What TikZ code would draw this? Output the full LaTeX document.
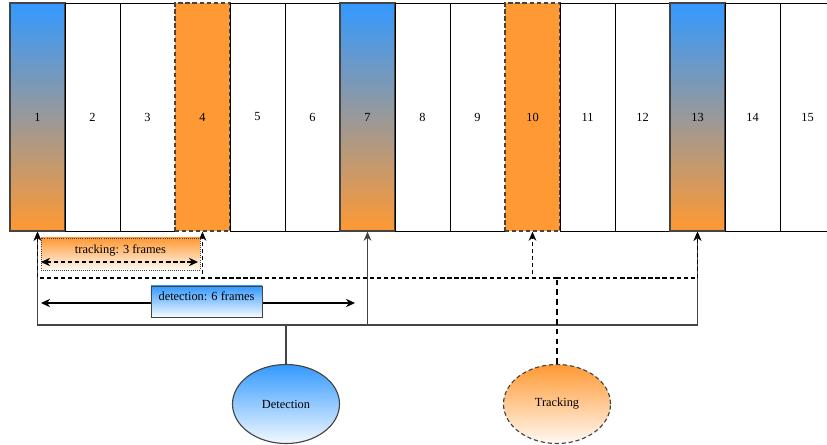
\documentclass[tikz,border=0pt]{standalone}
\usepackage{fontspec}
\setmainfont{Liberation Serif}
\usetikzlibrary{shapes.geometric,arrows.meta}

\definecolor{detblue}{HTML}{3399FF}
\definecolor{trkorange}{HTML}{FF9933}
\definecolor{edgegray}{HTML}{444444}

\tikzset{
  slot/.style={draw=black,line width=0.6pt,minimum width=1.375cm,minimum height=5.7cm,inner sep=0pt,font=\fontsize{8.8}{10}\selectfont},
  detslot/.style={slot,draw=edgegray,line width=0.9pt,top color=detblue,bottom color=trkorange},
  trkslot/.style={slot,draw=edgegray,line width=0.9pt,dash pattern=on 3pt off 2pt,fill=trkorange},
  blob/.style={ellipse,draw=edgegray,line width=0.8pt,minimum width=2.675cm,minimum height=1.975cm,inner sep=0pt,font=\fontsize{8.8}{10}\selectfont},
  detnode/.style={blob,top color=detblue,bottom color=detblue!6},
  trknode/.style={blob,dash pattern=on 3pt off 2pt,top color=trkorange,bottom color=trkorange!6},
  detlink/.style={draw=edgegray,line width=0.8pt,-{Stealth[length=6.5pt,width=5.5pt]}},
  trklink/.style={draw=black,line width=0.8pt,dash pattern=on 3pt off 2pt,-{Stealth[length=6.5pt,width=5.5pt]}},
  span/.style={line width=0.8pt,{Stealth[length=6.5pt,width=6pt]}-{Stealth[length=6.5pt,width=6pt]}},
  tagbox/.style={line width=0.5pt,inner sep=0pt,font=\fontsize{8.8}{10}\selectfont,text depth=7pt}
}

\begin{document}
\begin{tikzpicture}[x=0.025cm,y=-0.025cm]
        \useasboundingbox (0,0) rectangle (827,445);
        % the frames
        \node[detslot] (f1)  at ( 37.5,117) {1};
        \node[slot]    (f2)  at ( 92.5,117) {2};
        \node[slot]    (f3)  at (147.5,117) {3};
        \node[trkslot] (f4)  at (202.5,117) {4};
        \node[slot]    (f5)  at (257.5,117) {5};
        \node[slot]    (f6)  at (312.5,117) {6};
        \node[detslot] (f7)  at (367.5,117) {7};
        \node[slot]    (f8)  at (422.5,117) {8};
        \node[slot]    (f9)  at (477.5,117) {9};
        \node[trkslot] (f10) at (532.5,117) {10};
        \node[slot]    (f11) at (587.5,117) {11};
        \node[slot]    (f12) at (642.5,117) {12};
        \node[detslot] (f13) at (697.5,117) {13};
        \node[slot]    (f14) at (752.5,117) {14};
        \node[slot]    (f15) at (807.5,117) {15};

        \coordinate (tbus) at (0,278);
        \coordinate (dbus) at (0,325);

        \node[detnode] (det) at (286,404) {Detection};
        \node[trknode] (trk) at (557,404) {Tracking};

        % detection every 6 frames
        \draw[detlink] (det.north) -- (det.north |- dbus) -| (f1.south);
        \draw[detlink] (det.north |- dbus) -| (f7.south);
        \draw[detlink] (det.north |- dbus) -| (f13.south);

        % tracking every 3 frames
        \draw[black,line width=2pt,dash pattern=on 4pt off 3pt] (trk.north) -- (trk.north |- tbus);
        \draw[trklink] (trk.north |- tbus) -| (f1.south);
        \draw[trklink] (trk.north |- tbus) -| (f4.south);
        \draw[trklink] (trk.north |- tbus) -| (f10.south);
        \draw[trklink] (trk.north |- tbus) -| (f13.south);

        % spans
        \node[tagbox,draw=edgegray,densely dotted,top color=trkorange,bottom color=trkorange!4,minimum width=3.975cm,minimum height=0.8cm] (tbox) at (120.5,254) {tracking: 3 frames};
        \coordinate (ta) at ( 41,262);
        \coordinate (tb) at (198,262);
        \draw[span,dash pattern=on 3pt off 2pt] (ta) -- (tb);

        \coordinate (da) at ( 41,303);
        \coordinate (db) at (355,303);
        \draw[span] (da) -- (db);
        \node[tagbox,draw=edgegray,top color=detblue,bottom color=detblue!4,minimum width=2.775cm,minimum height=0.775cm] (dbox) at (206.5,301.5) {detection: 6 frames};
\end{tikzpicture}
\end{document}
